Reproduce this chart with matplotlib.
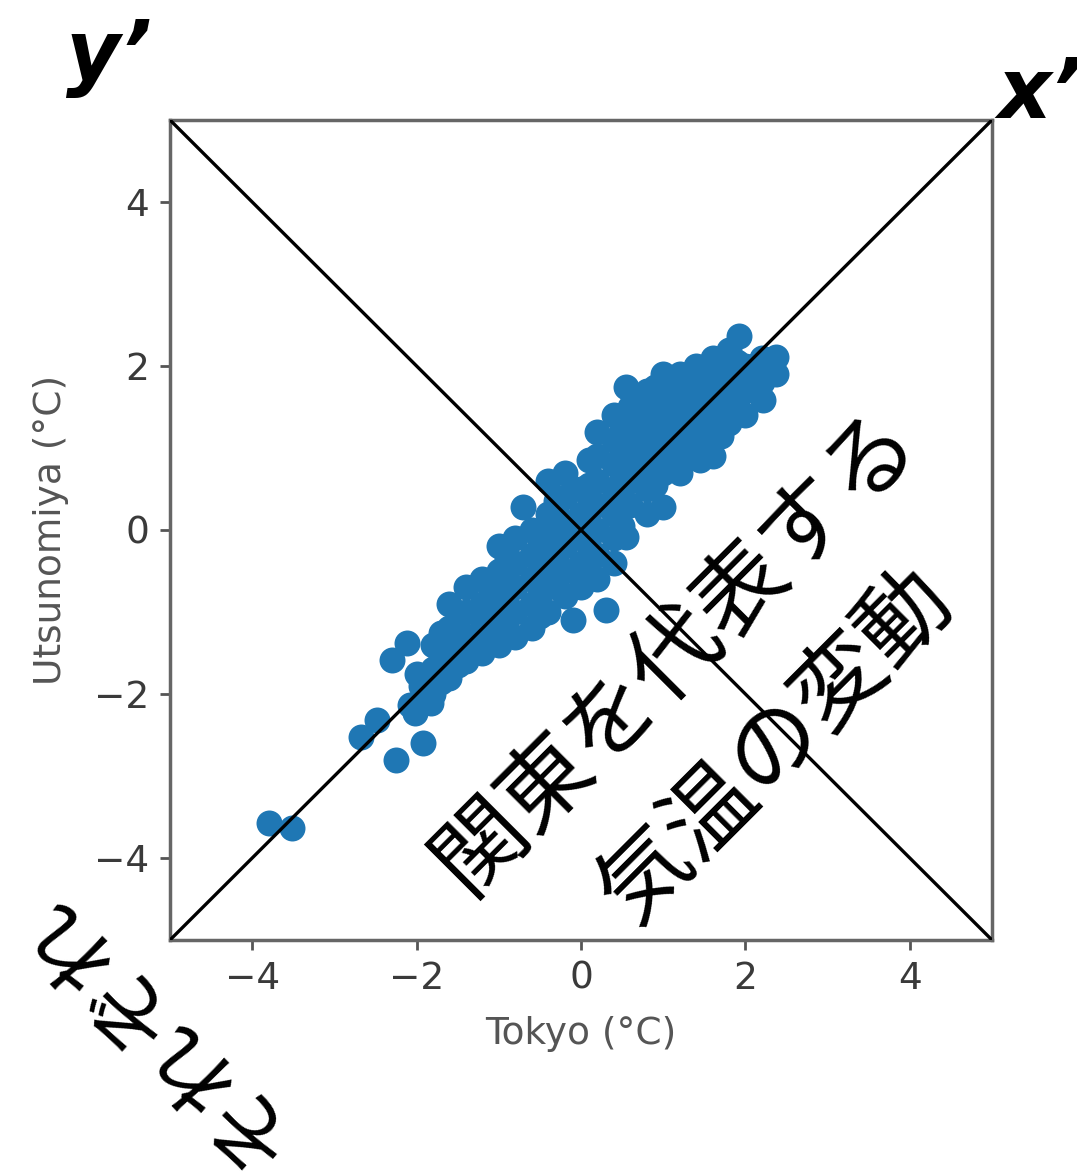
import matplotlib
matplotlib.use("Agg")
import matplotlib.pyplot as plt
import numpy as np

# anomalies (Tokyo vs Utsunomiya, degC)
tokyo = [-3.79, -3.52, -2.68, -2.48, -2.25, -1.92, -2.02, -1.82, -2.30, -2.12, -1.99, -2.08, -1.95,
         -1.8, -1.8, -1.8, -1.6, -1.6, -1.6, -1.6, -1.4, -1.4, -1.4, -1.4,
         -1.2, -1.2, -1.2, -1.2, -1.0, -1.0, -1.0, -1.0, -1.0,
         -0.8, -0.8, -0.8, -0.8, -0.8, -0.7, -0.6, -0.6, -0.6, -0.6, -0.6,
         -0.4, -0.4, -0.4, -0.4, -0.4, -0.4, -0.2, -0.2, -0.2, -0.2, -0.2, -0.2, -0.1,
         0.0, 0.0, 0.0, 0.0, 0.0, 0.2, 0.2, 0.2, 0.2, 0.2, 0.2, 0.2, 0.3,
         0.4, 0.4, 0.4, 0.4, 0.4, 0.4, 0.4, 0.55, 0.55, 0.6, 0.6, 0.6, 0.6, 0.6,
         0.8, 0.8, 0.8, 0.8, 0.8, 0.8, 1.0, 1.0, 1.0, 1.0, 1.0, 1.0,
         1.2, 1.2, 1.2, 1.2, 1.2, 1.4, 1.4, 1.4, 1.4, 1.45, 1.6, 1.6, 1.6, 1.6, 1.6,
         1.8, 1.8, 1.8, 1.8, 1.92, 2.0, 2.0, 2.0, 2.2, 2.2, 2.22, 2.37, 2.37,
         -1.7, -1.7, -1.7, -1.5, -1.5, -1.5, -1.1, -1.1, -1.1, -0.9, -0.9, -0.9, -0.9,
         -0.5, -0.5, -0.5, -0.5, -0.3, -0.3, -0.3, -0.3, 0.1, 0.1, 0.1, 0.1, 0.1,
         0.5, 0.5, 0.5, 0.5, 0.5, 0.7, 0.7, 0.7, 0.7, 0.9, 0.9, 0.9, 0.9, 0.9,
         1.1, 1.1, 1.1, 1.1, 1.3, 1.3, 1.3, 1.3, 1.5, 1.5, 1.5, 1.5,
         1.7, 1.7, 1.7, 1.7, 1.9, 1.9, 1.9, 2.1, 2.1]
utsunomiya = [-3.57, -3.64, -2.52, -2.32, -2.80, -2.60, -2.23, -2.11, -1.58, -1.38, -1.75, -2.13, -1.9,
              -1.4, -1.7, -2.0, -0.9, -1.2, -1.5, -1.8, -0.7, -1.0, -1.3, -1.6,
              -0.6, -0.9, -1.2, -1.5, -0.2, -0.5, -0.8, -1.1, -1.4,
              -0.1, -0.4, -0.7, -1.0, -1.3, 0.28, 0.0, -0.3, -0.6, -0.9, -1.2,
              0.6, 0.2, -0.1, -0.4, -0.7, -1.0, 0.7, 0.4, 0.1, -0.2, -0.5, -0.8, -1.1,
              0.5, 0.2, -0.1, -0.4, -0.7, 1.2, 0.9, 0.6, 0.3, 0.0, -0.3, -0.6, -0.98,
              1.4, 1.1, 0.8, 0.5, 0.2, -0.1, -0.4, 1.74, -0.08, 1.5, 1.2, 0.9, 0.6, 0.3,
              1.7, 1.4, 1.1, 0.8, 0.5, 0.2, 1.9, 1.6, 1.3, 1.0, 0.7, 0.28,
              1.9, 1.6, 1.3, 1.0, 0.7, 2.0, 1.7, 1.4, 1.1, 0.85, 2.1, 1.8, 1.5, 1.2, 0.9,
              2.2, 1.9, 1.6, 1.3, 2.36, 2.0, 1.7, 1.4, 2.1, 1.8, 1.59, 2.11, 1.9,
              -1.25, -1.55, -1.85, -1.05, -1.35, -1.65, -0.75, -1.05, -1.35, -0.35, -0.65, -0.95, -1.25,
              -0.15, -0.45, -0.75, -1.05, 0.35, 0.05, -0.25, -0.55, 0.85, 0.55, 0.25, -0.05, -0.35,
              1.25, 0.95, 0.65, 0.35, 0.05, 1.55, 1.25, 0.95, 0.65, 1.75, 1.45, 1.15, 0.85, 0.55,
              1.75, 1.45, 1.15, 0.85, 1.85, 1.55, 1.25, 0.95, 1.95, 1.65, 1.35, 1.05,
              2.05, 1.75, 1.45, 1.15, 2.05, 1.75, 1.5, 2.0, 1.75]

ticks = [-4, -2, 0, 2, 4]
lim = [-5, 5]
main_lines = ["関東を代表する", "気温の変動"]
side_text = "それぞれ"

W, H = 1077, 1174
fig = plt.figure(figsize=(W / 100, H / 100), dpi=100)
ax = fig.add_axes([170 / W, 1 - 940 / H, 822 / W, 820 / H])

ax.scatter(tokyo, utsunomiya, s=350, color="#1f77b4", linewidths=0, zorder=2)
ax.plot(lim, lim, color="black", lw=2.4, zorder=3)
ax.plot(lim, lim[::-1], color="black", lw=2.4, zorder=3)

ax.set_xlim(lim)
ax.set_ylim(lim)
ax.set_xticks(ticks)
ax.set_yticks(ticks)
ax.tick_params(labelsize=27, length=7, width=2, pad=8, colors="#555555", labelcolor="#3a3a3a")
for s in ax.spines.values():
    s.set_color("#666666")
    s.set_linewidth(2.5)
ax.set_xlabel("Tokyo (°C)", fontsize=27, color="#555555", labelpad=14)
ax.set_ylabel("Utsunomiya (°C)", fontsize=27, color="#555555", labelpad=18)

jp = ["Noto Sans CJK JP", "DejaVu Sans"]
fig.text(676 / W, 1 - 651 / H, main_lines[0], fontsize=66, family=jp, rotation=45,
         rotation_mode="anchor", ha="center", va="center")
fig.text(776 / W, 1 - 746 / H, main_lines[1], fontsize=66, family=jp, rotation=45,
         rotation_mode="anchor", ha="center", va="center")
fig.text(150 / W, 1 - 1030 / H, side_text, fontsize=62, family=jp, rotation=135,
         rotation_mode="anchor", ha="center", va="center")

fig.text(66 / W, 1 - 80 / H, "y’", fontsize=60, fontweight="bold", fontstyle="italic")
fig.text(997 / W, 1 - 118 / H, "x’", fontsize=60, fontweight="bold", fontstyle="italic")

fig.savefig("out.png", dpi=100)
